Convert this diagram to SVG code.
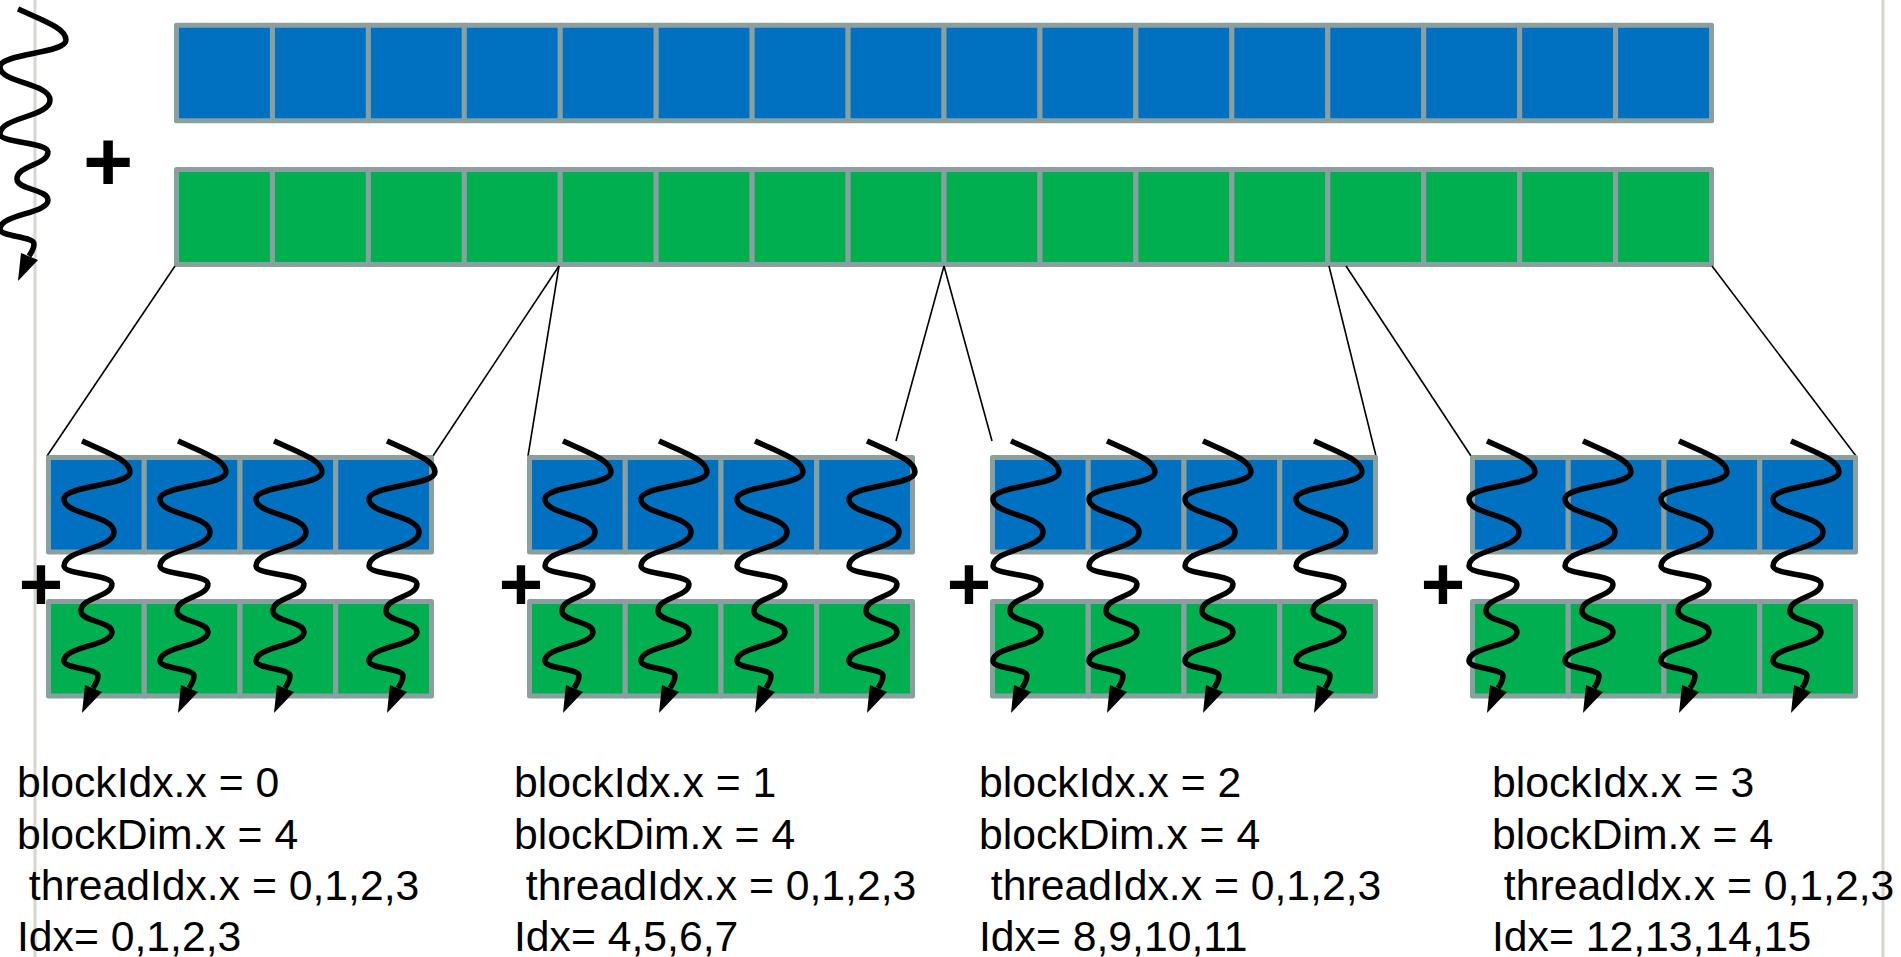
<svg xmlns="http://www.w3.org/2000/svg" xmlns:xlink="http://www.w3.org/1999/xlink" width="1901" height="957" viewBox="0 0 1901 957">
<style>
.b{fill:#0070C0;stroke:#8AA0A0;stroke-width:5;stroke-linejoin:round}
.g{fill:#00B050;stroke:#8AA0A0;stroke-width:5;stroke-linejoin:round}
.conn{stroke:#000;stroke-width:1.6;fill:none}
.sq{fill:none;stroke:#000;stroke-width:5.5;stroke-linecap:butt;stroke-linejoin:round}
.lbl{font-family:"Liberation Sans",Arial,sans-serif;font-size:42.7px;fill:#000}
.plus{font-family:"Liberation Sans",Arial,sans-serif;font-weight:bold;fill:#000;text-anchor:middle}
.edge{stroke:#D8D5CC;stroke-width:3}
</style>
<defs>
<g id="thread">
<path class="sq" d="M0,0 C24,11 48,19 48,31 C48,45 -18,44 -18,58 C-18,74 32,74 32,91 C32,108 -18,108 -18,125 C-18,134 30,133 30,143 C30,156 -1,156 -1,170 C-1,181 30,180 30,191 C30,205 -18,205 -18,220 C-18,228 16,227 16,235 C16,240 13,244 11,247"/>
<polygon points="3,244 20,251 0,272" fill="#000"/>
</g>
<g id="blk">
<rect class="b" x="0" y="0" width="95.75" height="94.5"/>
<rect class="b" x="95.75" y="0" width="95.75" height="94.5"/>
<rect class="b" x="191.5" y="0" width="95.75" height="94.5"/>
<rect class="b" x="287.25" y="0" width="95.75" height="94.5"/>
<rect class="g" x="0" y="144" width="95.75" height="94.5"/>
<rect class="g" x="95.75" y="144" width="95.75" height="94.5"/>
<rect class="g" x="191.5" y="144" width="95.75" height="94.5"/>
<rect class="g" x="287.25" y="144" width="95.75" height="94.5"/>
</g>
</defs>
<rect width="1901" height="957" fill="#fff"/>
<line class="edge" x1="35" y1="0" x2="35" y2="957"/>
<line class="edge" x1="1883" y1="0" x2="1883" y2="957"/>

<g id="vectorA">
<rect class="b" x="176.5" y="25.2" width="95.94" height="95.5"/>
<rect class="b" x="272.44" y="25.2" width="95.94" height="95.5"/>
<rect class="b" x="368.38" y="25.2" width="95.94" height="95.5"/>
<rect class="b" x="464.32" y="25.2" width="95.94" height="95.5"/>
<rect class="b" x="560.26" y="25.2" width="95.94" height="95.5"/>
<rect class="b" x="656.2" y="25.2" width="95.94" height="95.5"/>
<rect class="b" x="752.14" y="25.2" width="95.94" height="95.5"/>
<rect class="b" x="848.08" y="25.2" width="95.94" height="95.5"/>
<rect class="b" x="944.02" y="25.2" width="95.94" height="95.5"/>
<rect class="b" x="1039.96" y="25.2" width="95.94" height="95.5"/>
<rect class="b" x="1135.9" y="25.2" width="95.94" height="95.5"/>
<rect class="b" x="1231.84" y="25.2" width="95.94" height="95.5"/>
<rect class="b" x="1327.78" y="25.2" width="95.94" height="95.5"/>
<rect class="b" x="1423.72" y="25.2" width="95.94" height="95.5"/>
<rect class="b" x="1519.66" y="25.2" width="95.94" height="95.5"/>
<rect class="b" x="1615.6" y="25.2" width="95.94" height="95.5"/>
</g>
<g id="vectorB">
<rect class="g" x="176.5" y="169.5" width="95.94" height="95"/>
<rect class="g" x="272.44" y="169.5" width="95.94" height="95"/>
<rect class="g" x="368.38" y="169.5" width="95.94" height="95"/>
<rect class="g" x="464.32" y="169.5" width="95.94" height="95"/>
<rect class="g" x="560.26" y="169.5" width="95.94" height="95"/>
<rect class="g" x="656.2" y="169.5" width="95.94" height="95"/>
<rect class="g" x="752.14" y="169.5" width="95.94" height="95"/>
<rect class="g" x="848.08" y="169.5" width="95.94" height="95"/>
<rect class="g" x="944.02" y="169.5" width="95.94" height="95"/>
<rect class="g" x="1039.96" y="169.5" width="95.94" height="95"/>
<rect class="g" x="1135.9" y="169.5" width="95.94" height="95"/>
<rect class="g" x="1231.84" y="169.5" width="95.94" height="95"/>
<rect class="g" x="1327.78" y="169.5" width="95.94" height="95"/>
<rect class="g" x="1423.72" y="169.5" width="95.94" height="95"/>
<rect class="g" x="1519.66" y="169.5" width="95.94" height="95"/>
<rect class="g" x="1615.6" y="169.5" width="95.94" height="95"/>
</g>
<g id="topPlus"><text class="plus" x="108" y="191" font-size="86">+</text></g>
<g id="mainThread"><use xlink:href="#thread" href="#thread" x="18" y="9"/></g>

<g id="connectors">
<line class="conn" x1="175" y1="266" x2="47" y2="456"/>
<line class="conn" x1="559" y1="266" x2="433" y2="456"/>
<line class="conn" x1="559" y1="266" x2="528" y2="456"/>
<line class="conn" x1="944" y1="266" x2="896" y2="441"/>
<line class="conn" x1="944" y1="266" x2="992" y2="441"/>
<line class="conn" x1="1329" y1="266" x2="1376" y2="456"/>
<line class="conn" x1="1346" y1="266" x2="1471" y2="456"/>
<line class="conn" x1="1712" y1="266" x2="1856" y2="456"/>
</g>

<g id="block0">
<use xlink:href="#blk" href="#blk" x="48.5" y="457.5"/>
<text class="plus" x="41" y="610" font-size="76">+</text>
<use xlink:href="#thread" href="#thread" x="82" y="441"/>
<use xlink:href="#thread" href="#thread" x="178" y="441"/>
<use xlink:href="#thread" href="#thread" x="274" y="441"/>
<use xlink:href="#thread" href="#thread" x="387" y="441"/>
<text class="lbl" xml:space="preserve"><tspan x="17" y="797">blockIdx.x = 0</tspan><tspan x="17" y="848.5">blockDim.x = 4</tspan><tspan x="17" y="900"> threadIdx.x = 0,1,2,3</tspan><tspan x="17" y="951">Idx= 0,1,2,3</tspan></text>
</g>
<g id="block1">
<use xlink:href="#blk" href="#blk" x="529.5" y="457.5"/>
<text class="plus" x="521" y="610" font-size="76">+</text>
<use xlink:href="#thread" href="#thread" x="563" y="441"/>
<use xlink:href="#thread" href="#thread" x="659" y="441"/>
<use xlink:href="#thread" href="#thread" x="755" y="441"/>
<use xlink:href="#thread" href="#thread" x="867" y="441"/>
<text class="lbl" xml:space="preserve"><tspan x="514" y="797">blockIdx.x = 1</tspan><tspan x="514" y="848.5">blockDim.x = 4</tspan><tspan x="514" y="900"> threadIdx.x = 0,1,2,3</tspan><tspan x="514" y="951">Idx= 4,5,6,7</tspan></text>
</g>
<g id="block2">
<use xlink:href="#blk" href="#blk" x="992.5" y="457.5"/>
<text class="plus" x="969" y="610" font-size="76">+</text>
<use xlink:href="#thread" href="#thread" x="1011" y="441"/>
<use xlink:href="#thread" href="#thread" x="1107" y="441"/>
<use xlink:href="#thread" href="#thread" x="1203" y="441"/>
<use xlink:href="#thread" href="#thread" x="1314" y="441"/>
<text class="lbl" xml:space="preserve"><tspan x="979" y="797">blockIdx.x = 2</tspan><tspan x="979" y="848.5">blockDim.x = 4</tspan><tspan x="979" y="900"> threadIdx.x = 0,1,2,3</tspan><tspan x="979" y="951">Idx= 8,9,10,11</tspan></text>
</g>
<g id="block3">
<use xlink:href="#blk" href="#blk" x="1472.5" y="457.5"/>
<text class="plus" x="1443" y="610" font-size="76">+</text>
<use xlink:href="#thread" href="#thread" x="1487" y="441"/>
<use xlink:href="#thread" href="#thread" x="1583" y="441"/>
<use xlink:href="#thread" href="#thread" x="1679" y="441"/>
<use xlink:href="#thread" href="#thread" x="1791" y="441"/>
<text class="lbl" xml:space="preserve"><tspan x="1492" y="797">blockIdx.x = 3</tspan><tspan x="1492" y="848.5">blockDim.x = 4</tspan><tspan x="1492" y="900"> threadIdx.x = 0,1,2,3</tspan><tspan x="1492" y="951">Idx= 12,13,14,15</tspan></text>
</g>
</svg>
